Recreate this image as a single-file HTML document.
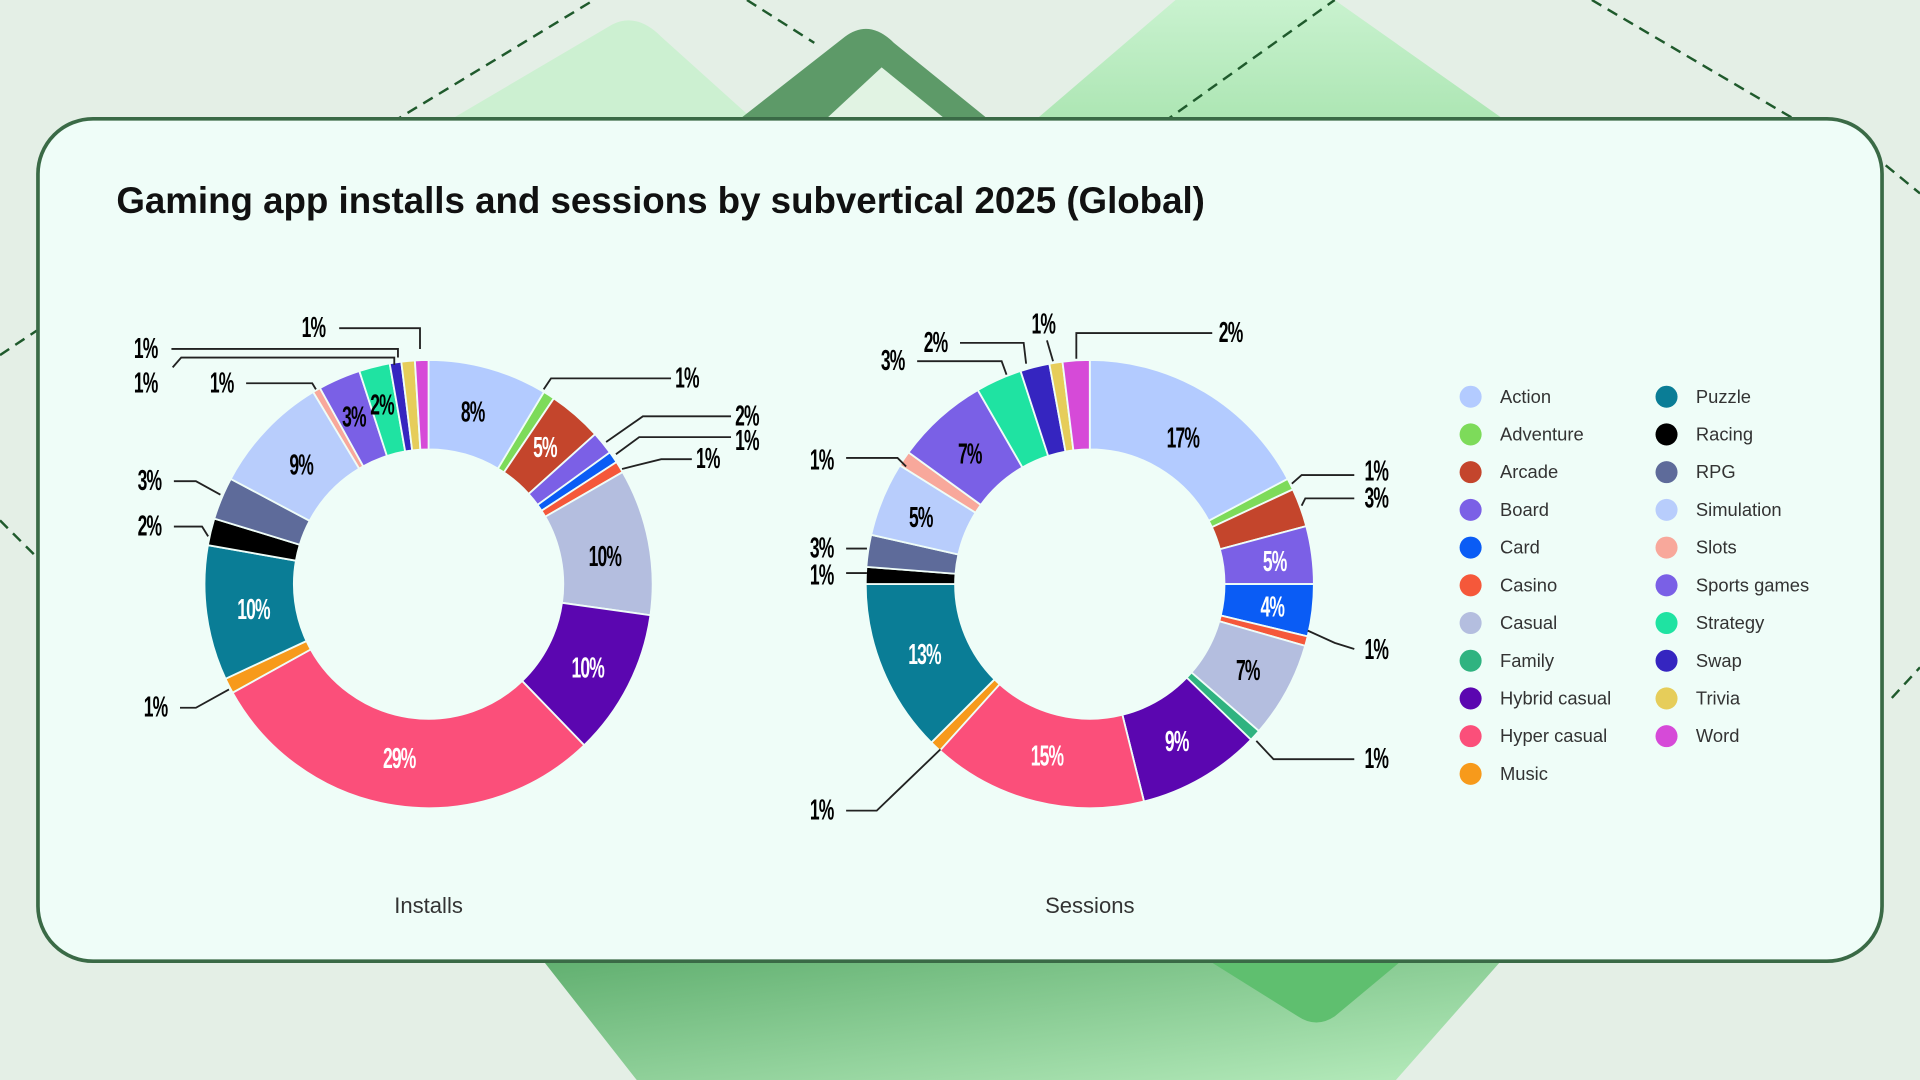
<!DOCTYPE html>
<html><head><meta charset="utf-8">
<style>
html,body{margin:0;padding:0;width:1920px;height:1080px;overflow:hidden;background:#e4efe6;}
svg{display:block}
.t{font-family:"Liberation Sans Narrow","Liberation Sans",sans-serif;font-weight:bold;font-size:21px;text-anchor:middle;dominant-baseline:middle;letter-spacing:-1px}
.lg{font-family:"Liberation Sans",sans-serif;font-size:15px;fill:#333;dominant-baseline:middle}
</style></head><body>
<svg id="s" width="1920" height="1080" viewBox="0 0 1568 882" xmlns="http://www.w3.org/2000/svg">
<defs>
<linearGradient id="g1" x1="0" y1="0" x2="0" y2="1"><stop offset="0" stop-color="#c9f2cf"/><stop offset="1" stop-color="#a6e3ad"/></linearGradient>
<linearGradient id="g2" x1="0" y1="0" x2="1" y2="1"><stop offset="0" stop-color="#5fae6e"/><stop offset="1" stop-color="#b7ecbd"/></linearGradient>
</defs>
<rect width="1568" height="882" fill="#e4efe6"/>
<path d="M330 120 L500 20 Q520 10 540 30 L640 120 Z" fill="#ccf0d1"/>
<path d="M575 120 L690 30 Q710 15 730 35 L835 120 Z" fill="#5d9a68"/>
<path d="M650 120 L720 55 L800 120 Z" fill="#e1f3e3"/>
<path d="M820 120 L960 0 L1090 0 L1260 120 Z" fill="url(#g1)"/>
<path d="M440 780 L1230 780 L1140 882 L520 882 Z" fill="url(#g2)"/>
<path d="M980 780 L1150 780 L1090 830 Q1075 840 1060 830 Z" fill="#5fbf6f"/>
<g fill="none" stroke="#1f5a2c" stroke-width="2" stroke-dasharray="9 6">
<path d="M320 100 L485 0"/><path d="M610 0 L665 35"/><path d="M950 100 L1090 0"/>
<path d="M1300 0 L1470 100"/><path d="M1540 135 L1568 158"/><path d="M0 290 L30 270"/>
<path d="M0 425 L30 455"/><path d="M1545 570 L1568 545"/>
</g>
<rect x="31" y="97" width="1506" height="688" rx="45" fill="#effdf8" stroke="#3a6a46" stroke-width="3"/>
<text x="95" y="166" font-family="Liberation Sans,sans-serif" font-weight="bold" font-size="30" textLength="889" fill="#111" dominant-baseline="middle">Gaming app installs and sessions by subvertical 2025 (Global)</text>
<g id="d1"></g><g id="d2"></g>
<text x="350" y="741" font-family="Liberation Sans,sans-serif" font-size="18" fill="#333" text-anchor="middle" dominant-baseline="middle">Installs</text>
<text x="890" y="741" font-family="Liberation Sans,sans-serif" font-size="18" fill="#333" text-anchor="middle" dominant-baseline="middle">Sessions</text>
<g id="lg"></g>
<g id="ld" fill="none" stroke="#222" stroke-width="1.5"></g>
<g id="tx"></g>
</svg>
<script>
var C={Action:"#b3cbff",Adventure:"#7ddb5a",Arcade:"#c4452c",Board:"#7b60e6",Card:"#0a5cf5",Casino:"#f5583a",Casual:"#b4bedf",Family:"#2fb380","Hybrid casual":"#5b06b0","Hyper casual":"#fb4f7a",Music:"#f79a1b",Puzzle:"#0a7d96",Racing:"#000000",RPG:"#5e6b9a",Simulation:"#b8cdfc",Slots:"#f8a89b","Sports games":"#7a60e6",Strategy:"#1fe3a2",Swap:"#3525c0",Trivia:"#e6cd5a",Word:"#d64ad8"};
var NS="http://www.w3.org/2000/svg";
function el(p,t,a,txt){var e=document.createElementNS(NS,t);for(var k in a)e.setAttribute(k,a[k]);if(txt)e.textContent=txt;p.appendChild(e);return e;}
function pt(cx,cy,r,a){a=a*Math.PI/180;return [cx+r*Math.sin(a),cy-r*Math.cos(a)];}
function donut(g,cx,cy,R,r,segs){var s=0;segs.forEach(function(d){var e=d[1];var l=(e-s)>180?1:0;
var a=pt(cx,cy,R,s),b=pt(cx,cy,R,e),c=pt(cx,cy,r,e),f=pt(cx,cy,r,s);
el(g,"path",{d:"M"+a+" A"+R+" "+R+" 0 "+l+" 1 "+b+" L"+c+" A"+r+" "+r+" 0 "+l+" 0 "+f+" Z",fill:C[d[0]],stroke:"#effdf8","stroke-width":1.5});s=e;});}
donut(document.getElementById("d1"),350,477,183,110,[["Action",31],["Adventure",34],["Arcade",48],["Board",54],["Card",57],["Casino",60],["Casual",98],["Hybrid casual",136],["Hyper casual",241],["Music",245],["Puzzle",280],["Racing",287],["RPG",298],["Simulation",329],["Slots",331],["Sports games",342],["Strategy",350],["Swap",353],["Trivia",356.5],["Word",360]]);
donut(document.getElementById("d2"),890,477,183,110,[["Action",62],["Adventure",65],["Arcade",75],["Board",90],["Card",103.5],["Casino",106],["Casual",131],["Family",134],["Hybrid casual",166],["Hyper casual",222],["Music",225],["Puzzle",270],["Racing",274.4],["RPG",282.7],["Simulation",302],["Slots",306],["Sports games",330],["Strategy",342],["Swap",349.6],["Trivia",353],["Word",360]]);
var tx=document.getElementById("tx");
[[386,337,"8%","#000"],[445,366,"5%","#fff"],[494,455,"10%","#000"],[480,546,"10%","#fff"],[326,620,"29%","#fff"],[207,498,"10%","#fff"],[246,380,"9%","#000"],[289,341,"3%","#000"],[312,331,"2%","#000"],
[966,358,"17%","#000"],[1041,459,"5%","#fff"],[1039,496,"4%","#fff"],[1019,548,"7%","#000"],[961,606,"9%","#fff"],[855,618,"15%","#fff"],[755,535,"13%","#fff"],[752,423,"5%","#000"],[792,371,"7%","#000"],
[256,268,"1%"],[119,285,"1%"],[119,313,"1%"],[181,313,"1%"],[122,393,"3%"],[122,430,"2%"],[127,578,"1%"],[561,309,"1%"],[610,340,"2%"],[610,360,"1%"],[578,375,"1%"],
[1005,272,"2%"],[852,265,"1%"],[764,280,"2%"],[729,295,"3%"],[671,376,"1%"],[671,448,"3%"],[671,470,"1%"],[671,662,"1%"],[1124,620,"1%"],[1124,531,"1%"],[1124,385,"1%"],[1124,407,"3%"]
].forEach(function(d){var g=el(tx,"g",{transform:"translate("+d[0]+","+d[1]+") scale(0.68,1.12)"});el(g,"text",{x:0,y:1,"class":"t",fill:d[3]||"#000"},d[2]);});
var ld=document.getElementById("ld");
["M277 268 H343 V285","M140 285 H325 V292","M141 300 L148 292 H322 V298","M201 313 H255 L258 318","M142 393 H160 L180 404","M142 430 H165 L170 438","M147 578 H160 L187 563","M548 309 H450 L444 318","M597 340 H525 L495 361","M597 357 H522 L503 371","M565 375 H540 L508 383",
"M990 272 H879 V293","M855 278 L860 295","M784 280 H836 L838 297","M749 295 H818 L822 306","M691 374 H733 L740 381","M691 448 H708","M691 468 H708","M691 662 H716 L768 612","M1106 620 H1040 L1026 605","M1106 530 L1090 525 L1068 515","M1106 388 H1063 L1055 395","M1106 407 H1066 L1063 413"
].forEach(function(d){el(ld,"path",{d:d});});
var lg=document.getElementById("lg");
var c1=["Action","Adventure","Arcade","Board","Card","Casino","Casual","Family","Hybrid casual","Hyper casual","Music"],c2=["Puzzle","Racing","RPG","Simulation","Slots","Sports games","Strategy","Swap","Trivia","Word"];
c1.forEach(function(n,i){var y=324+30.8*i;el(lg,"circle",{cx:1201,cy:y,r:9,fill:C[n]});el(lg,"text",{x:1225,y:y+1,"class":"lg"},n);});
c2.forEach(function(n,i){var y=324+30.8*i;el(lg,"circle",{cx:1361,cy:y,r:9,fill:C[n]});el(lg,"text",{x:1385,y:y+1,"class":"lg"},n);});
</script>
</body></html>
